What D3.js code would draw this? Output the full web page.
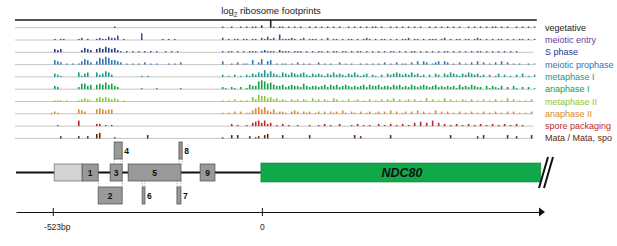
<!DOCTYPE html>
<html>
<head>
<meta charset="utf-8">
<script src="https://cdn.jsdelivr.net/npm/d3@7"></script>
<style>
  body { margin: 0; background: #fff; }
  svg { font-family: "Liberation Sans", Arial, sans-serif; }
</style>
</head>
<body>
<svg width="617" height="246"></svg>
<script>
// stages of the time course, top to bottom
const stages = ['vegetative', 'meiotic entry', 'S phase', 'meiotic prophase', 'metaphase I',
  'anaphase I', 'metaphase II', 'anaphase II', 'spore packaging', 'Mata / Mata, spo'];
const stageColors = ['#222222', '#6a3d9a', '#2b3990', '#2e75b6', '#17998a',
  '#12a04a', '#8cc63f', '#d98a2b', '#c0272d', '#5a2a10'];

// footprint heights per 7.5 bp bin, from -615 bp (one digit per bin, groups of 10)
const footprints = [
  '0000000000 0000000000 0000000000 0001000000 0000000000 0000000000 0000000001 0010010101 1020071011 0101010010 1010101010 0101010101 1010010101 0101010010 1010101010 0101010101 1010100101 0101',
  '0000000000 0001011000 0120100121 1322401000 0060000001 0101000000 0000000002 0101101101 1021312051 1121012011 1010201101 0110101210 1011010101 1201101011 1012010110 1101210101 0110101011 0101',
  '0000000000 0003230000 0024320343 5434210101 0101010100 1010100000 0000000001 0110101011 1012111021 1101110101 0110101101 1010110101 0101011010 1011010101 0101101010 1010110101 0101010100 0000',
  '0000000000 0004320101 0135420365 7644320101 0102010100 0101020000 0000000003 0010201104 0250340101 1010201010 0201010020 1010010101 0102010201 1020303201 2303201020 1020302010 2030201010 0101',
  '0000000000 0003210000 0413400423 5420000000 0010100000 0000000000 0000000002 0102010213 2436353214 3243234213 2321324232 1324212302 1020323432 3242312020 3203243213 2432312020 1302010203 0102',
  '0000000000 0003200000 0255340454 6453200000 0010000100 0000010000 0000000002 1021020143 3787564334 2343325323 3234243423 4323234243 3423324342 3243234323 4232323142 3243220313 2130203102 0201',
  '0000000000 0001110100 0123210343 4323201000 0000000000 0000000000 0000000001 0102010104 2655342312 1021202103 1202103201 0201201020 1020213020 1202010302 0103020102 1020102010 2010302010 1020',
  '0000000000 0012100000 0432000454 3440000000 0000000000 0000000000 0000000001 0102020113 5646324122 1023202120 1202021203 1021020120 1202030201 2020302010 3020201020 1020102010 2010202010 1020',
  '0000000000 0000100000 0500000220 1010000000 0000000000 0000000000 0000000000 0020100103 4535230102 0100100010 0102010020 0010201010 0201020102 0103040305 0302010201 0201020102 0102010201 0000',
  '0000000000 0000020000 0200200450 0001000000 0000300000 0000000000 0000000001 0030300020 1203400003 0000000030 0000000000 0003020000 0000030000 0000000000 0000030000 0000203000 0000300200 0030'
];
const binStart = -615, binSize = 7.5;

// uORFs upstream of NDC80 (bp), row: 0 on the line, -1 above, 1 below
const leader = { start: -517, end: -447 };
const uorfs = [
  { id: '1', start: -447, end: -407, row: 0 },
  { id: '2', start: -407, end: -347, row: 1 },
  { id: '3', start: -377, end: -347, row: 0 },
  { id: '4', start: -367, end: -347, row: -1 },
  { id: '5', start: -332, end: -200, row: 0 },
  { id: '6', start: -297, end: -290, row: 1 },
  { id: '7', start: -210, end: -200, row: 1 },
  { id: '8', start: -205, end: -197, row: -1 },
  { id: '9', start: -152, end: -115, row: 0 }
];
const orf = { name: 'NDC80', start: 0, end: 700 };
const axisTicks = [-523, 0];

const svg = d3.select('svg');

const x = d3.scaleLinear().domain([-615, 693]).range([15, 538]);
const trackY = d3.scaleBand().domain(stages).range([15.5, 138.5 + 12.3 - 8.8]);
const baseY = s => 27.7 + stages.indexOf(s) * 12.3;
const h = d3.scaleLinear().domain([0, 9]).range([0, 10]);

// title
const title = svg.append('text')
    .attr('x', 271).attr('y', 14)
    .attr('text-anchor', 'middle')
    .attr('font-size', 9.5)
    .attr('fill', '#222');
title.append('tspan').text('log');
title.append('tspan').attr('font-size', 6.5).attr('dy', 2.5).text('2');
title.append('tspan').attr('dy', -2.5).text(' ribosome footprints');

svg.append('line')
    .attr('x1', x(-615)).attr('x2', x(690))
    .attr('y1', 20).attr('y2', 20)
    .attr('stroke', '#555').attr('stroke-width', 2);

// tracks
stages.forEach((s, i) => {
  const y0 = baseY(s);
  const g = svg.append('g');
  g.append('line')
      .attr('x1', x(-615)).attr('x2', x(682))
      .attr('y1', y0).attr('y2', y0)
      .attr('stroke', '#c4c4c4').attr('stroke-width', 1);
  const vals = footprints[i].replace(/ /g, '').split('').map(Number)
      .map((v, j) => ({ pos: binStart + j * binSize, v }))
      .filter(d => d.v > 0);
  g.selectAll('rect').data(vals).enter().append('rect')
      .attr('x', d => x(d.pos))
      .attr('width', 1.6)
      .attr('y', d => y0 - h(d.v))
      .attr('height', d => h(d.v))
      .attr('fill', stageColors[i]);
  svg.append('text')
      .attr('x', 545).attr('y', y0 + 3)
      .attr('font-size', 9)
      .attr('fill', stageColors[i])
      .text(s);
});

// gene model
const rowY = { '-1': 142, '0': 164, '1': 187 };
const boxH = 17;

svg.append('line')
    .attr('x1', 16).attr('x2', x(orf.start))
    .attr('y1', 172.5).attr('y2', 172.5)
    .attr('stroke', '#111').attr('stroke-width', 2);

svg.append('rect')
    .attr('x', x(leader.start)).attr('y', rowY[0])
    .attr('width', x(leader.end) - x(leader.start)).attr('height', boxH)
    .attr('fill', '#d3d3d3').attr('stroke', '#777').attr('stroke-width', 0.8);

// dotted connectors for shifted uORFs
uorfs.filter(d => d.row !== 0).forEach(d => {
  const ya = d.row < 0 ? rowY[-1] + boxH : rowY[0] + boxH;
  const yb = d.row < 0 ? rowY[0] : rowY[1];
  [d.start, d.end].forEach(p => {
    svg.append('line')
        .attr('x1', x(p)).attr('x2', x(p))
        .attr('y1', ya).attr('y2', yb)
        .attr('stroke', '#888').attr('stroke-width', 0.7)
        .attr('stroke-dasharray', '1,1');
  });
});

const u = svg.selectAll('g.uorf').data(uorfs).enter().append('g').attr('class', 'uorf');
u.append('rect')
    .attr('x', d => x(d.start)).attr('y', d => rowY[d.row])
    .attr('width', d => x(d.end) - x(d.start)).attr('height', boxH)
    .attr('fill', '#999').attr('stroke', '#555').attr('stroke-width', 0.8);
u.append('text')
    .attr('x', d => (x(d.end) - x(d.start)) > 8 ? (x(d.start) + x(d.end)) / 2 : x(d.end) + 4.5)
    .attr('y', d => rowY[d.row] + 12)
    .attr('text-anchor', 'middle')
    .attr('font-size', 8.5).attr('font-weight', 'bold')
    .attr('fill', '#111')
    .text(d => d.id);

svg.append('rect')
    .attr('x', x(orf.start)).attr('y', 163)
    .attr('width', x(orf.end) - x(orf.start)).attr('height', 19)
    .attr('fill', '#10a84a').attr('stroke', '#0b8a3a').attr('stroke-width', 0.6);
svg.append('text')
    .attr('x', 402).attr('y', 177)
    .attr('text-anchor', 'middle')
    .attr('font-size', 12.5).attr('font-weight', 'bold').attr('font-style', 'italic')
    .attr('fill', '#111')
    .text(orf.name);

// break mark
[0, 5].forEach(dx => {
  svg.append('line')
      .attr('x1', 539 + dx).attr('y1', 188)
      .attr('x2', 548 + dx).attr('y2', 157)
      .attr('stroke', '#111').attr('stroke-width', 2);
});

// position axis
const axisG = svg.append('g')
    .attr('transform', 'translate(0,212)')
    .call(d3.axisBottom(x.copy().range([16, 539])).tickValues(axisTicks)
      .tickSizeInner(4).tickSizeOuter(0)
      .tickFormat(d => d === 0 ? '0' : d + 'bp'));
axisG.select('.domain').attr('stroke', '#111').attr('stroke-width', 1.2);
axisG.selectAll('.tick line').attr('y1', -4).attr('stroke', '#111');
axisG.selectAll('.tick text')
    .attr('y', 12).attr('font-size', 8.5).attr('fill', '#222')
    .attr('font-family', '"Liberation Sans", Arial, sans-serif')
    .attr('dx', d => d === 0 ? 0 : 4);
svg.append('path')
    .attr('d', 'M539,207.5 L545,212 L539,216.5 Z')
    .attr('fill', '#111');
</script>
</body>
</html>
